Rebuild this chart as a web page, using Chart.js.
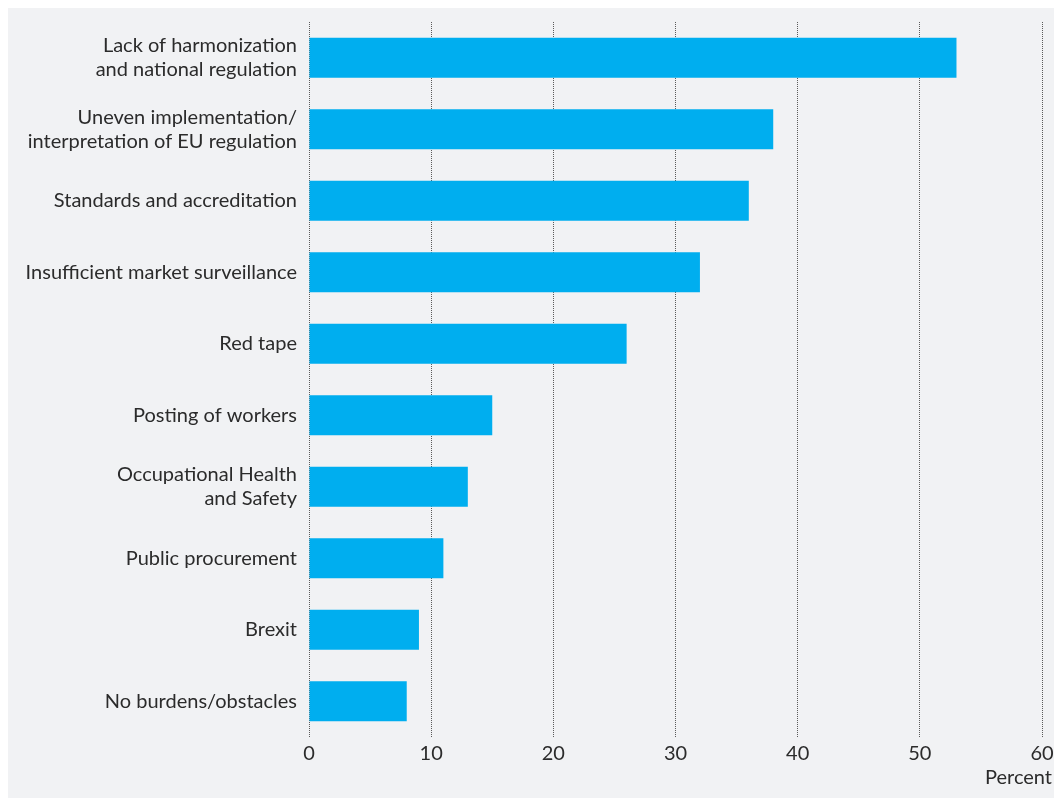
<!DOCTYPE html>
<html>
<head>
<meta charset="utf-8">
<script src="https://cdn.jsdelivr.net/npm/chart.js@4"></script>
<style>
  body { margin: 8px 0 0 8px; background: #fff; }
  #wrap { width: 1046px; height: 790px; background: #f1f2f4; }
</style>
</head>
<body>
<div id="wrap"><canvas id="myChart"></canvas></div>
<script>
// Chart data
var categories = [
    ['Lack of harmonization', 'and national regulation'],
    ['Uneven implementation/', 'interpretation of EU regulation'],
    'Standards and accreditation',
    'Insufficient market surveillance',
    'Red tape',
    'Posting of workers',
    ['Occupational Health', 'and Safety'],
    'Public procurement',
    'Brexit',
    'No burdens/obstacles'
];
var values = [53, 38, 36, 32, 26, 15, 13, 11, 9, 8];
var xTicks = [0, 10, 20, 30, 40, 50, 60];
var unitLabel = 'Percent';

var textColor = '#2b2b2b';
var fontFamily = 'Lato';
var ctx = document.getElementById('myChart').getContext('2d');

// "Percent" sits under the last tick, a little past the plot edge
var unitLabelPlugin = {
    id: 'unitLabel',
    afterDraw: function (chart) {
        var c = chart.ctx;
        c.save();
        c.font = '20px ' + fontFamily;
        c.fillStyle = textColor;
        c.textAlign = 'right';
        c.textBaseline = 'middle';
        c.fillText(unitLabel, chart.width - 2, chart.height - 20);
        c.restore();
    }
};

var myChart = new Chart(ctx, {
    type: 'bar',
    data: {
        labels: categories,
        datasets: [{
            data: values,
            backgroundColor: '#00aeef',
            barPercentage: 0.56,
            categoryPercentage: 1
        }]
    },
    options: {
        indexAxis: 'y',
        responsive: true,
        maintainAspectRatio: false,
        animation: false,
        layout: { padding: { top: 14, right: 12, bottom: 0, left: 0 } },
        plugins: {
            legend: { display: false },
            tooltip: { enabled: false }
        },
        scales: {
            x: {
                min: xTicks[0],
                max: xTicks[xTicks.length - 1],
                afterBuildTicks: function (scale) {
                    scale.ticks = xTicks.map(function (v) { return { value: v }; });
                },
                afterFit: function (scale) {
                    scale.height = 61;
                    scale.paddingLeft = 0;
                    scale.paddingRight = 0;
                },
                grid: {
                    color: '#5a5a5a',
                    lineWidth: 1,
                    drawTicks: false
                },
                border: { display: false, dash: [1, 1] },
                ticks: {
                    padding: 5,
                    color: textColor,
                    font: { family: fontFamily, size: 20 }
                }
            },
            y: {
                grid: { display: false, drawTicks: false },
                border: { display: false },
                afterFit: function (scale) {
                    scale.width = 301;
                    scale.paddingTop = 0;
                    scale.paddingBottom = 0;
                },
                ticks: {
                    padding: 12,
                    color: textColor,
                    font: { family: fontFamily, size: 20, lineHeight: 1.2 }
                }
            }
        }
    },
    plugins: [unitLabelPlugin]
});
</script>
</body>
</html>
